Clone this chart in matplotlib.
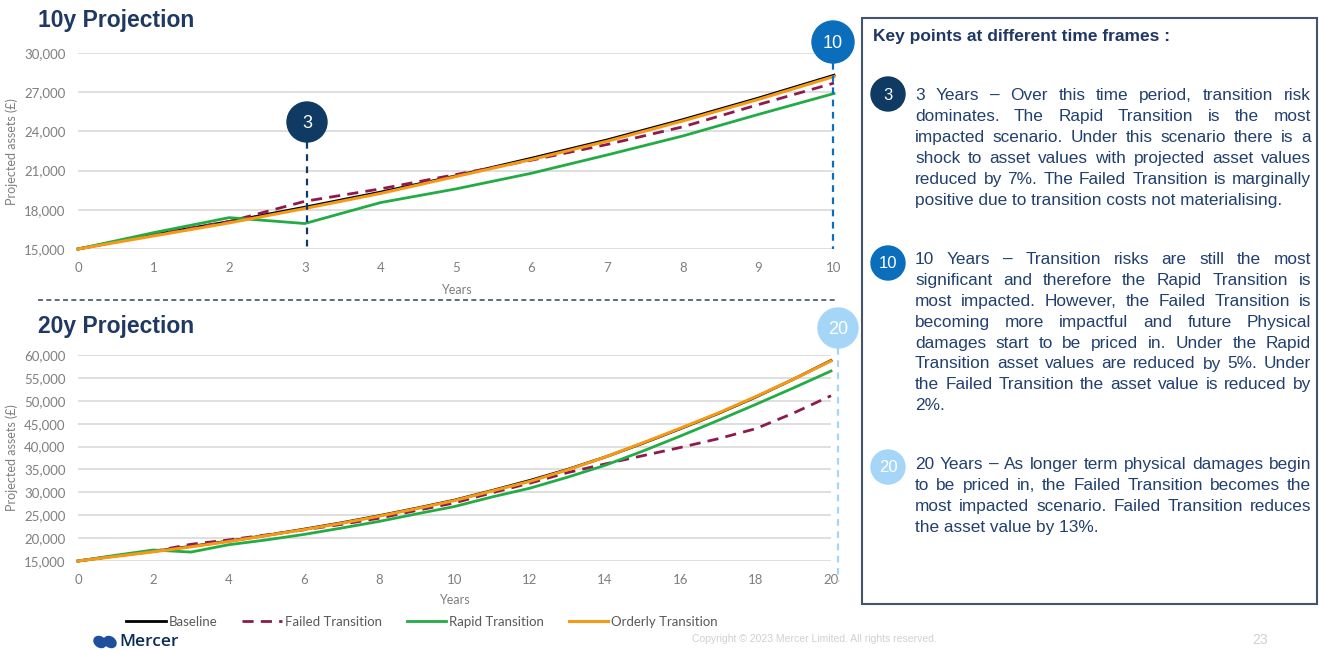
import matplotlib
matplotlib.use('Agg')
import matplotlib.pyplot as plt
from matplotlib.patches import Circle, Rectangle, Ellipse
from matplotlib.ticker import FuncFormatter

# data (projected assets, £)
years = list(range(21))
baseline = [15000, 16100, 17100, 18200, 19350, 20600, 21950, 23350, 24900, 26550, 28300,
            30400, 32600, 35000, 37700, 40700, 43900, 47200, 50800, 54700, 58800]
failed = [15000, 16100, 17100, 18650, 19600, 20700, 21800, 23000, 24350, 26050, 27700,
          29900, 32000, 34300, 36200, 38000, 39800, 41700, 43900, 47300, 51100]
rapid = [15000, 16250, 17400, 16950, 18550, 19600, 20800, 22200, 23650, 25300, 26900,
         29000, 30900, 33300, 35900, 39000, 42300, 45700, 49200, 52800, 56500]
orderly = [15000, 16000, 17000, 18100, 19250, 20550, 21850, 23250, 24800, 26450, 28200,
           30300, 32400, 34900, 37700, 40800, 44000, 47300, 50900, 54700, 58700]
series_names = ['Baseline', 'Failed Transition', 'Rapid Transition', 'Orderly Transition']

top_yticks = [15000, 18000, 21000, 24000, 27000, 30000]
bot_yticks = [15000, 20000, 25000, 30000, 35000, 40000, 45000, 50000, 55000, 60000]

para1 = ["3 Years \u2013 Over this time period, transition risk",
         "dominates. The Rapid Transition is the most",
         "impacted scenario.  Under this scenario there is a",
         "shock to asset values with projected asset values",
         "reduced by 7%. The Failed Transition is marginally",
         "positive due to transition costs not materialising."]
para2 = ["10 Years \u2013 Transition risks are still the most",
         "significant and therefore the Rapid Transition is",
         "most impacted.  However, the Failed Transition is",
         "becoming more impactful and future Physical",
         "damages start to be priced in. Under the Rapid",
         "Transition asset values are reduced by 5%. Under",
         "the Failed Transition the asset value is reduced by",
         "2%."]
para3 = ["20 Years \u2013 As longer term physical damages begin",
         "to be priced in, the Failed Transition becomes the",
         "most impacted scenario. Failed Transition reduces",
         "the asset value by 13%."]

NAVY = '#1f3864'
DARK = '#0e3a63'
MID = '#0a6ebd'
LIGHT = '#a6d6f7'
GREY = '#7f7f7f'
AX_FONT = ['Lato', 'DejaVu Sans']
TXT_FONT = ['Liberation Sans', 'DejaVu Sans']

W, H = 1319, 650
fig = plt.figure(figsize=(W / 100, H / 100), dpi=100)
fig.patch.set_facecolor('white')


def px_axes(l, r, t, b):
    return fig.add_axes([l / W, 1 - b / H, (r - l) / W, (b - t) / H])


def style_chart(ax, xmax, xticks, yticks):
    ax.set_xlim(0, xmax)
    ax.set_ylim(yticks[0], yticks[-1])
    ax.set_xticks(xticks)
    ax.set_yticks(yticks)
    ax.yaxis.set_major_formatter(FuncFormatter(lambda v, p: f'{int(v):,}'))
    ax.grid(axis='y', color='#d9d9d9', lw=1.2)
    ax.set_axisbelow(True)
    for s in ax.spines.values():
        s.set_visible(False)
    ax.tick_params(length=0, labelsize=9.5, labelcolor=GREY, pad=9)
    for lab in ax.get_xticklabels() + ax.get_yticklabels():
        lab.set_family(AX_FONT)


def draw_series(ax, n):
    x = years[:n]
    ax.plot(x, baseline[:n], color='black', lw=2.0, label=series_names[0], clip_on=False)
    ax.plot(x, failed[:n], color='#8e1a4d', lw=2.0, dashes=(4, 2.6), label=series_names[1], clip_on=False)
    ax.plot(x, rapid[:n], color='#22ac45', lw=2.0, label=series_names[2], clip_on=False)
    ax.plot(x, orderly[:n], color='#f59a17', lw=2.2, label=series_names[3], clip_on=False)


# top chart: 10y
ax1 = px_axes(78, 834, 53, 249)
draw_series(ax1, 11)
style_chart(ax1, 10, range(0, 11), top_yticks)

# bottom chart: 20y
ax2 = px_axes(78, 831, 355, 561)
draw_series(ax2, 21)
style_chart(ax2, 20, range(0, 21, 2), bot_yticks)

# overlay in pixel coordinates for annotations
ov = fig.add_axes([0, 0, 1, 1], zorder=5)
ov.set_xlim(0, W)
ov.set_ylim(H, 0)
ov.axis('off')

ov.text(38, 20, '10y Projection', fontsize=16.5, fontweight='bold', color=NAVY,
        family=TXT_FONT, va='center', ha='left')
ov.text(38, 327, '20y Projection', fontsize=16.5, fontweight='bold', color=NAVY,
        family=TXT_FONT, va='center', ha='left')
ov.plot([38, 838], [300, 300], color='#44546a', lw=1.2, dashes=(3, 2))

fig.text(12 / W, 1 - 152 / H, 'Projected assets (\u00a3)', rotation=90, ha='center', va='center',
         fontsize=9, color=GREY, family=AX_FONT)
fig.text(12 / W, 1 - 458 / H, 'Projected assets (\u00a3)', rotation=90, ha='center', va='center',
         fontsize=9, color=GREY, family=AX_FONT)
ov.text(456, 290, 'Years', ha='center', va='center', fontsize=9, color=GREY, family=AX_FONT)
ov.text(454, 600, 'Years', ha='center', va='center', fontsize=9, color=GREY, family=AX_FONT)


def marker(x, y, r, label, color, fs=13):
    ov.add_patch(Circle((x, y), r, color=color, zorder=6))
    ov.text(x, y + 1, label, color='white', fontsize=fs, ha='center', va='center',
            family=TXT_FONT, zorder=7)


# time frame markers on the charts
ov.plot([307, 307], [142, 249], color=DARK, lw=1.6, dashes=(3, 2.5))
marker(307, 122, 20, '3', DARK)
ov.plot([833, 833], [63, 249], color=MID, lw=1.6, dashes=(3, 2.5))
marker(833, 42, 21, '10', MID)
ov.plot([838, 838], [348, 582], color=LIGHT, lw=1.6, dashes=(3, 2.5))
marker(838, 328, 20, '20', LIGHT)

# key points box
ov.add_patch(Rectangle((862, 18), 455, 586, fill=False, ec='#44546a', lw=1.5))
ov.text(873, 37, 'Key points at different time frames :', fontsize=12.5, fontweight='bold',
        color=NAVY, family=TXT_FONT, va='center', ha='left')

renderer = fig.canvas.get_renderer()


def justified(lines, x0, x1, y0, dy):
    kw = dict(fontsize=12.4, color='#22406e', family=TXT_FONT, va='baseline', ha='left')
    for i, line in enumerate(lines):
        y = y0 + i * dy
        words = line.split()
        if i == len(lines) - 1 or len(words) == 1:
            ov.text(x0, y, line, **kw)
            continue
        texts = [ov.text(0, y, w, **kw) for w in words]
        widths = [t.get_window_extent(renderer).width for t in texts]
        gap = (x1 - x0 - sum(widths)) / (len(words) - 1)
        x = x0
        for t, w in zip(texts, widths):
            t.set_x(x)
            x += w + gap


justified(para1, 915, 1311, 100, 21)
justified(para2, 915, 1311, 264, 20.9)
justified(para3, 915, 1311, 469, 21)
marker(888, 94, 17, '3', DARK, fs=12)
marker(888, 263, 17, '10', MID, fs=12)
marker(888, 467, 17, '20', LIGHT, fs=12)

# legend
handles, labels = ax2.get_legend_handles_labels()
leg = fig.legend(handles, labels, loc='center', bbox_to_anchor=(422 / W, 1 - 622 / H), ncol=4,
                 frameon=False, handlelength=3.0, handletextpad=0.2, columnspacing=1.9,
                 prop={'family': AX_FONT, 'size': 9.5})
for t in leg.get_texts():
    t.set_color('#595959')

# footer
ov.add_patch(Ellipse((100, 642), 13, 10, angle=35, color='#1d4f9c'))
ov.add_patch(Ellipse((110, 642), 13, 10, angle=35, color='#1d4f9c'))
ov.text(119, 642, 'Mercer', fontsize=12.5, color='#0b2d5b', family=['Open Sans', 'DejaVu Sans'],
        fontweight='semibold', va='center', ha='left')
ov.text(692, 639, 'Copyright \u00a9 2023 Mercer Limited. All rights reserved.', fontsize=7.5,
        color='#d0d0d0', family=TXT_FONT, va='center', ha='left')
ov.text(1260, 640, '23', fontsize=10, color='#d0d0d0', family=TXT_FONT, va='center', ha='center')

fig.savefig('out.png', dpi=100)
